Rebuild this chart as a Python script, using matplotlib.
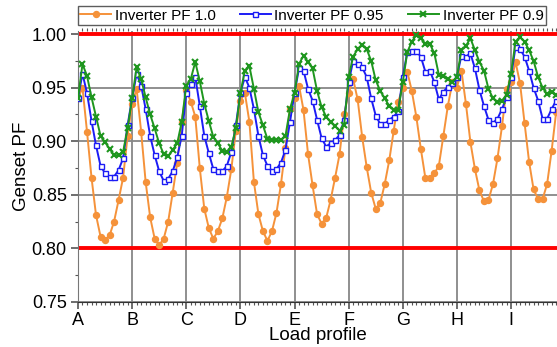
import numpy as np
import matplotlib
matplotlib.use('Agg')
import matplotlib.pyplot as plt
from matplotlib.ticker import MultipleLocator

plt.rcParams['font.family'] = ['Liberation Sans', 'DejaVu Sans']

# load profiles (12 samples each)
profiles = ['A', 'B', 'C', 'D', 'E', 'F', 'G', 'H', 'I']
samples_per_profile = 12

# genset PF, inverter PF = 1.0
pf_10 = [0.940, 0.950, 0.909, 0.866, 0.831, 0.811, 0.808, 0.812, 0.825, 0.845, 0.866, 0.905,
         0.935, 0.949, 0.909, 0.862, 0.829, 0.809, 0.803, 0.809, 0.825, 0.852, 0.880, 0.918,
         0.948, 0.937, 0.923, 0.875, 0.837, 0.819, 0.809, 0.816, 0.828, 0.848, 0.874, 0.910,
         0.938, 0.945, 0.918, 0.862, 0.832, 0.816, 0.807, 0.816, 0.833, 0.860, 0.894, 0.930,
         0.940, 0.952, 0.929, 0.888, 0.859, 0.832, 0.823, 0.828, 0.845, 0.866, 0.888, 0.925,
         0.945, 0.958, 0.939, 0.904, 0.876, 0.852, 0.837, 0.842, 0.860, 0.882, 0.910, 0.937,
         0.950, 0.965, 0.947, 0.923, 0.893, 0.866, 0.866, 0.870, 0.877, 0.905, 0.933, 0.955,
         0.950, 0.966, 0.935, 0.899, 0.874, 0.854, 0.844, 0.845, 0.860, 0.884, 0.914, 0.949,
         0.955, 0.974, 0.954, 0.917, 0.881, 0.855, 0.846, 0.846, 0.860, 0.891, 0.927]

# genset PF, inverter PF = 0.95
pf_095 = [0.940, 0.963, 0.945, 0.919, 0.896, 0.877, 0.870, 0.867, 0.867, 0.873, 0.884, 0.915,
          0.940, 0.963, 0.952, 0.930, 0.905, 0.887, 0.872, 0.863, 0.865, 0.872, 0.885, 0.905,
          0.945, 0.953, 0.960, 0.933, 0.905, 0.889, 0.874, 0.872, 0.872, 0.877, 0.890, 0.915,
          0.945, 0.960, 0.950, 0.930, 0.905, 0.887, 0.877, 0.872, 0.874, 0.880, 0.892, 0.918,
          0.945, 0.968, 0.966, 0.949, 0.938, 0.920, 0.903, 0.895, 0.898, 0.901, 0.906, 0.920,
          0.955, 0.975, 0.972, 0.969, 0.960, 0.940, 0.924, 0.916, 0.916, 0.920, 0.923, 0.928,
          0.960, 0.983, 0.984, 0.984, 0.979, 0.965, 0.966, 0.955, 0.939, 0.946, 0.951, 0.954,
          0.960, 0.980, 0.979, 0.982, 0.968, 0.948, 0.933, 0.920, 0.917, 0.921, 0.930, 0.941,
          0.960, 0.988, 0.986, 0.979, 0.966, 0.950, 0.938, 0.921, 0.921, 0.930, 0.938]

# genset PF, inverter PF = 0.9
pf_09 = [0.940, 0.972, 0.961, 0.941, 0.923, 0.905, 0.899, 0.893, 0.887, 0.887, 0.890, 0.912,
         0.940, 0.969, 0.958, 0.941, 0.925, 0.912, 0.898, 0.888, 0.886, 0.892, 0.898, 0.918,
         0.952, 0.958, 0.974, 0.956, 0.935, 0.919, 0.904, 0.898, 0.891, 0.890, 0.895, 0.912,
         0.945, 0.966, 0.970, 0.949, 0.927, 0.915, 0.902, 0.901, 0.901, 0.901, 0.905, 0.930,
         0.945, 0.972, 0.980, 0.974, 0.968, 0.947, 0.932, 0.923, 0.918, 0.914, 0.910, 0.915,
         0.960, 0.979, 0.986, 0.990, 0.986, 0.975, 0.957, 0.947, 0.940, 0.933, 0.929, 0.929,
         0.955, 0.983, 0.993, 0.999, 0.996, 0.991, 0.991, 0.982, 0.962, 0.961, 0.958, 0.955,
         0.960, 0.985, 0.989, 0.996, 0.985, 0.974, 0.966, 0.949, 0.940, 0.937, 0.938, 0.943,
         0.963, 0.993, 0.997, 0.993, 0.985, 0.975, 0.960, 0.950, 0.944, 0.946, 0.943]

pf_limits = [0.80, 1.00]

x = np.arange(len(pf_10)) / samples_per_profile

fig = plt.figure(figsize=(5.57, 3.47), dpi=100)
ax = fig.add_axes([0.140, 0.130, 0.862, 0.781])

for lim in pf_limits:
    ax.axhline(lim, color='#ff0000', lw=2.8, zorder=2)

ax.plot(x, pf_10, '-o', color='#f5923a', lw=1.4, ms=4.3, mec='#f5923a', label='Inverter PF 1.0', zorder=3)
ax.plot(x, pf_095, '-s', color='#1c1cf5', lw=1.4, ms=3.6, mfc='white', mec='#1c1cf5', mew=1.0,
        label='Inverter PF 0.95', zorder=4)
ax.plot(x, pf_09, '-x', color='#1e961e', lw=1.4, ms=5, mew=1.5, label='Inverter PF 0.9', zorder=5)

ax.set_xlim(0, 8.87)
ax.set_ylim(0.75, 1.003)
ax.set_xticks(range(len(profiles)))
ax.set_xticklabels(profiles)
ax.xaxis.set_minor_locator(MultipleLocator(1 / samples_per_profile))
ax.yaxis.set_minor_locator(MultipleLocator(0.025))
ax.set_yticks([0.75, 0.80, 0.85, 0.90, 0.95, 1.00])
ax.set_yticklabels(['0.75', '0.80', '0.85', '0.90', '0.95', '1.00'])

ax.grid(True, which='major', color='#878787', lw=1.3, zorder=1)
ax.tick_params(axis='both', which='major', labelsize=13, length=5, width=1.2, color='#555555', pad=3)
ax.tick_params(axis='x', which='minor', length=2.5, width=0.8, color='#555555', top=True, direction='out')
ax.tick_params(axis='y', which='minor', length=2, width=0.8, color='#555555')
ax.tick_params(axis='x', which='major', pad=2)

ax.spines['top'].set_visible(False)
ax.spines['right'].set_visible(False)
ax.spines['left'].set_color('#777777')
ax.spines['bottom'].set_color('#333333')

ax.set_xlabel('Load profile', fontsize=13.5, labelpad=-1)
ax.set_ylabel('Genset PF', fontsize=13.5, labelpad=1)

leg = ax.legend(loc='lower left', bbox_to_anchor=(0, 1.022), ncol=3, borderaxespad=0,
                fontsize=11, frameon=True, fancybox=False, handlelength=2.0,
                columnspacing=1.6, borderpad=0.15, handletextpad=0.25)
leg.get_frame().set_edgecolor('#333333')
leg.get_frame().set_linewidth(1.0)

fig.savefig('out.png', dpi=100)
